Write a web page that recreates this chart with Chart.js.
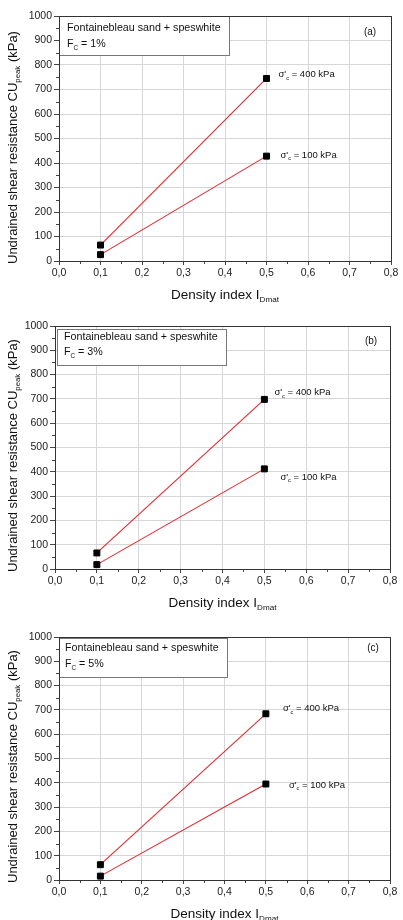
<!DOCTYPE html>
<html>
<head>
<meta charset="utf-8">
<script src="https://cdn.jsdelivr.net/npm/chart.js@4"></script>
<style>
  body { margin: 0; background: #fff; }
  #wrap { position: relative; width: 403px; height: 920px; overflow: hidden; }
  #wrap canvas { position: absolute; left: 0; }
</style>
</head>
<body>
<div id="wrap">
  <canvas id="panelA" width="403" height="305"></canvas>
  <canvas id="panelB" width="403" height="305"></canvas>
  <canvas id="panelC" width="403" height="310"></canvas>
</div>
<script>
(() => {
  // 1) Data
  const densityIndex = [0.1, 0.5];
  const cuPeak400 = [[65, 745], [66, 698], [63, 684]]; // sigma'c = 400 kPa
  const cuPeak100 = [[26, 428], [18, 412], [16, 395]]; // sigma'c = 100 kPa
  const finesContent = ["1%", "3%", "5%"];
  const panelLabels = ["(a)", "(b)", "(c)"];
  const xTickRange = [0, 0.8, 0.1];
  const yTickRange = [0, 1000, 100];

  // 2) Layout of each panel (page pixels)
  const canvasIds = ["panelA", "panelB", "panelC"];
  const panelTop = [0, 305, 610];
  const areaLeft = [59, 55, 59];
  const areaRight = [391, 390, 390];
  const areaTop = [16, 21, 27];
  const areaBottom = [261, 264, 270];
  // legend box [dx, dy, w, h] relative to chart area top-left
  const boxGeom = [[0, 0, 170, 39], [2, 3, 169, 36], [0, 1, 168, 39]];
  const boxTextPos = [[8, 12, 28], [9, 11, 26], [6, 11, 27]];
  const tagPos = [[370, 16], [371, 15], [373, 11]];
  // annotation offsets from the 0.5 point [dx, dy]
  const note400 = [[12, -4], [10, -7], [17, -5]];
  const note100 = [[14, -1], [16, 8], [23, 1]];

  const FONT = "'Liberation Sans', Arial, Helvetica, sans-serif";
  const RED = "#e5262d";

  const fmtComma = (v) => Number(v).toFixed(1).replace(".", ",");

  // draws text with subscript pieces, returns width
  function richText(ctx, parts, x, y, size, align) {
    const widths = parts.map((p) => {
      ctx.font = (p.sub ? size * 0.6 : size) + "px " + FONT;
      return ctx.measureText(p.t).width;
    });
    const total = widths.reduce((a, b) => a + b, 0);
    let cx = align === "center" ? x - total / 2 : x;
    ctx.textAlign = "left";
    ctx.textBaseline = "middle";
    parts.forEach((p, i) => {
      ctx.font = (p.sub ? size * 0.6 : size) + "px " + FONT;
      ctx.fillText(p.t, cx, p.sub ? y + size * 0.38 : y);
      cx += widths[i];
    });
    return total;
  }

  const decor = {
    id: "decor",
    beforeDraw(chart) {
      const { ctx } = chart;
      ctx.save();
      ctx.fillStyle = "#fff";
      ctx.fillRect(0, 0, chart.width, chart.height);
      ctx.restore();
    },
    afterDraw(chart) {
      const i = chart.options.plugins.decor.index;
      const { ctx, chartArea: a, scales } = chart;
      const xs = scales.x, ys = scales.y;
      ctx.save();

      // minor ticks
      ctx.strokeStyle = "#444";
      ctx.lineWidth = 1;
      ctx.beginPath();
      for (let v = 0.05; v < 0.8; v += 0.1) {
        const px = Math.round(xs.getPixelForValue(v)) + 0.5;
        ctx.moveTo(px, a.bottom);
        ctx.lineTo(px, a.bottom + 3);
      }
      for (let v = 50; v < 1000; v += 100) {
        const py = Math.round(ys.getPixelForValue(v)) + 0.5;
        ctx.moveTo(a.left - 3, py);
        ctx.lineTo(a.left, py);
      }
      ctx.stroke();

      // legend box
      const [bx, by, bw, bh] = boxGeom[i];
      const L = Math.round(a.left) + 0.5, T = Math.round(a.top) + 0.5;
      ctx.fillStyle = "#fff";
      ctx.fillRect(L + bx, T + by, bw, bh);
      ctx.strokeStyle = "#777";
      ctx.strokeRect(L + bx, T + by, bw, bh);

      // frame
      ctx.strokeStyle = "#333";
      ctx.strokeRect(L, T, Math.round(a.right) - Math.round(a.left), Math.round(a.bottom) - Math.round(a.top));

      ctx.fillStyle = "#111";
      const [tx, ty1, ty2] = boxTextPos[i];
      richText(ctx, [{ t: "Fontainebleau sand + speswhite" }], a.left + tx, a.top + ty1, 10.7, "left");
      richText(ctx, [{ t: "F" }, { t: "C", sub: true }, { t: " = " + finesContent[i] }], a.left + tx, a.top + ty2, 10.7, "left");

      // panel tag
      richText(ctx, [{ t: panelLabels[i] }], tagPos[i][0], a.top + tagPos[i][1], 10, "center");

      // stress annotations
      const px = xs.getPixelForValue(densityIndex[1]);
      const p4 = ys.getPixelForValue(cuPeak400[i][1]);
      const p1 = ys.getPixelForValue(cuPeak100[i][1]);
      richText(ctx, [{ t: "\u03c3'" }, { t: "c", sub: true }, { t: " = 400 kPa" }], px + note400[i][0], p4 + note400[i][1], 9.5, "left");
      richText(ctx, [{ t: "\u03c3'" }, { t: "c", sub: true }, { t: " = 100 kPa" }], px + note100[i][0], p1 + note100[i][1], 9.5, "left");

      // x title
      richText(ctx, [{ t: "Density index I" }, { t: "Dmat", sub: true }], (a.left + a.right) / 2, a.bottom + 34, 13.5, "center");

      // y title, rotated, starting just below the axis bottom
      ctx.translate(13, a.bottom + 3);
      ctx.rotate(-Math.PI / 2);
      richText(ctx, [{ t: "Undrained shear resistance CU" }, { t: "peak", sub: true }, { t: " (kPa)" }], 0, 0, 13, "left");

      ctx.restore();
    },
  };

  function makePanel(i) {
    const canvas = document.getElementById(canvasIds[i]);
    canvas.style.top = panelTop[i] + "px";
    const H = canvas.height;
    const series = (vals) => densityIndex.map((x, k) => ({ x, y: vals[k] }));
    const ds = (vals) => ({
      data: series(vals),
      borderColor: RED,
      borderWidth: 1.1,
      pointStyle: "rect",
      pointRadius: 4.2,
      pointBackgroundColor: "#000",
      pointBorderColor: "#000",
      pointBorderWidth: 1,
      tension: 0,
    });
    return new Chart(canvas.getContext("2d"), {
      type: "line",
      data: { datasets: [ds(cuPeak400[i]), ds(cuPeak100[i])] },
      options: {
        responsive: false,
        animation: false,
        devicePixelRatio: 1,
        layout: { padding: { top: areaTop[i], right: 403 - areaRight[i], left: 0, bottom: 0 } },
        plugins: { legend: { display: false }, tooltip: { enabled: false }, decor: { index: i } },
        scales: {
          x: {
            type: "linear",
            min: xTickRange[0],
            max: xTickRange[1],
            afterFit: (s) => { s.height = H - areaBottom[i]; },
            border: { display: false },
            grid: { color: "#d6d6d6", tickColor: "#444", tickLength: 4 },
            ticks: {
              stepSize: xTickRange[2],
              callback: (v) => fmtComma(v),
              font: { family: FONT, size: 10.5 },
              color: "#222",
              padding: 2,
              maxRotation: 0,
              autoSkip: false,
            },
          },
          y: {
            min: yTickRange[0],
            max: yTickRange[1],
            afterFit: (s) => { s.width = areaLeft[i]; },
            border: { display: false },
            grid: { color: "#d6d6d6", tickColor: "#444", tickLength: 5 },
            ticks: {
              stepSize: yTickRange[2],
              callback: (v) => String(Math.round(v)),
              font: { family: FONT, size: 10.5 },
              color: "#222",
              padding: 2,
            },
          },
        },
      },
      plugins: [decor],
    });
  }

  [0, 1, 2].forEach(makePanel);
})();
</script>
</body>
</html>
